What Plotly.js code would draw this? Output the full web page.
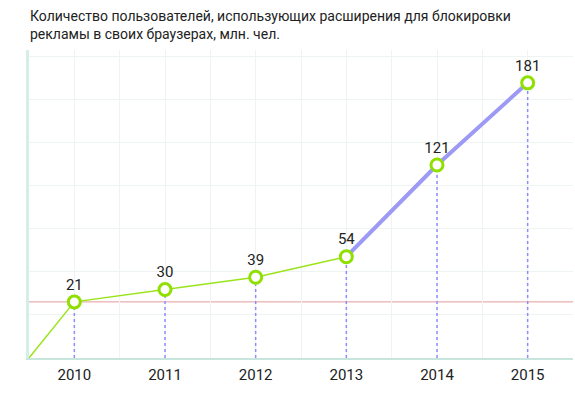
<!DOCTYPE html>
<html>
<head>
<meta charset="utf-8">
<script src="https://cdn.plot.ly/plotly-3.0.1.min.js"></script>
<style>html,body{margin:0;padding:0;background:#fff;}#chart{width:575px;height:399px;}</style>
</head>
<body>
<div id="chart"></div>
<script>
// Data
const years = [2010, 2011, 2012, 2013, 2014, 2015];
const users = [21, 30, 39, 54, 121, 181];
const yearLabels = ['2010', '2011', '2012', '2013', '2014', '2015'];
const splitIndex = 3; // segment from 2013 onward drawn in purple
const titleText = 'Количество пользователей, использующих расширения для блокировки<br>рекламы в своих браузерах, млн. чел.';

const xRange = [years[0] - 0.5, years[years.length - 1] + 0.5];
const yRange = [-20, 205];
const gridStep = 220 / 7;

// half-year grid ticks, labels only on years
const tickVals = [], tickText = [];
for (let i = 0; i < years.length; i++) {
  tickVals.push(years[i] - 0.5, years[i]);
  tickText.push('', yearLabels[i]);
}
tickVals.push(xRange[1]); tickText.push('');

// drop lines
const dropX = [], dropY = [];
years.forEach((yr, i) => { dropX.push(yr, yr, null); dropY.push(yRange[0], users[i], null); });

const green = '#9be41c';
const purple = '#9d9af5';

const traces = [
  { x: dropX, y: dropY, mode: 'lines', line: { color: '#8c8cff', width: 1.5, dash: 'dot' }, hoverinfo: 'skip', showlegend: false },
  { x: [xRange[0]].concat(years.slice(0, splitIndex + 1)), y: [yRange[0]].concat(users.slice(0, splitIndex + 1)),
    mode: 'lines', line: { color: green, width: 1.5 }, showlegend: false },
  { x: years.slice(splitIndex), y: users.slice(splitIndex), mode: 'lines', line: { color: purple, width: 4 }, showlegend: false },
  { x: years, y: users, mode: 'markers+text', text: users.map(String), textposition: 'top center',
    textfont: { family: 'Roboto, sans-serif', size: 15, color: '#222' },
    marker: { size: 12, color: '#fff', line: { color: '#8fe000', width: 3 } }, showlegend: false, cliponaxis: false }
];

const layout = {
  width: 575, height: 399,
  margin: { l: 29, r: 2, t: 50, b: 41 },
  paper_bgcolor: '#fff', plot_bgcolor: '#fff',
  font: { family: 'Roboto, sans-serif', color: '#222' },
  annotations: [{ text: titleText, xref: 'paper', x: 0, xanchor: 'left', xshift: -1, yref: 'paper', y: 1, yanchor: 'top', yshift: 44,
    align: 'left', showarrow: false, font: { family: 'Roboto, sans-serif', size: 14, color: '#222' } }],
  xaxis: { range: xRange, tickmode: 'array', tickvals: tickVals, ticktext: tickText, showgrid: true, gridcolor: '#edf4f2', gridwidth: 1,
    showline: true, linecolor: '#c6e6dd', linewidth: 2, ticks: '', zeroline: false, ticklabelstandoff: 2,
    tickfont: { family: 'Roboto, sans-serif', size: 15, color: '#222' }, fixedrange: true },
  yaxis: { range: yRange, tick0: yRange[0], dtick: gridStep, showgrid: true, gridcolor: '#edf4f2', gridwidth: 1,
    showticklabels: false, ticks: '', showline: true, linecolor: '#d6eee8', linewidth: 3, zeroline: false, fixedrange: true },
  shapes: [{ type: 'line', xref: 'paper', x0: 0, x1: 1, yref: 'y', y0: users[0], y1: users[0], line: { color: '#e59a9a', width: 1 }, layer: 'below' }]
};

Plotly.newPlot('chart', traces, layout, { staticPlot: true, displayModeBar: false });
</script>
</body>
</html>
